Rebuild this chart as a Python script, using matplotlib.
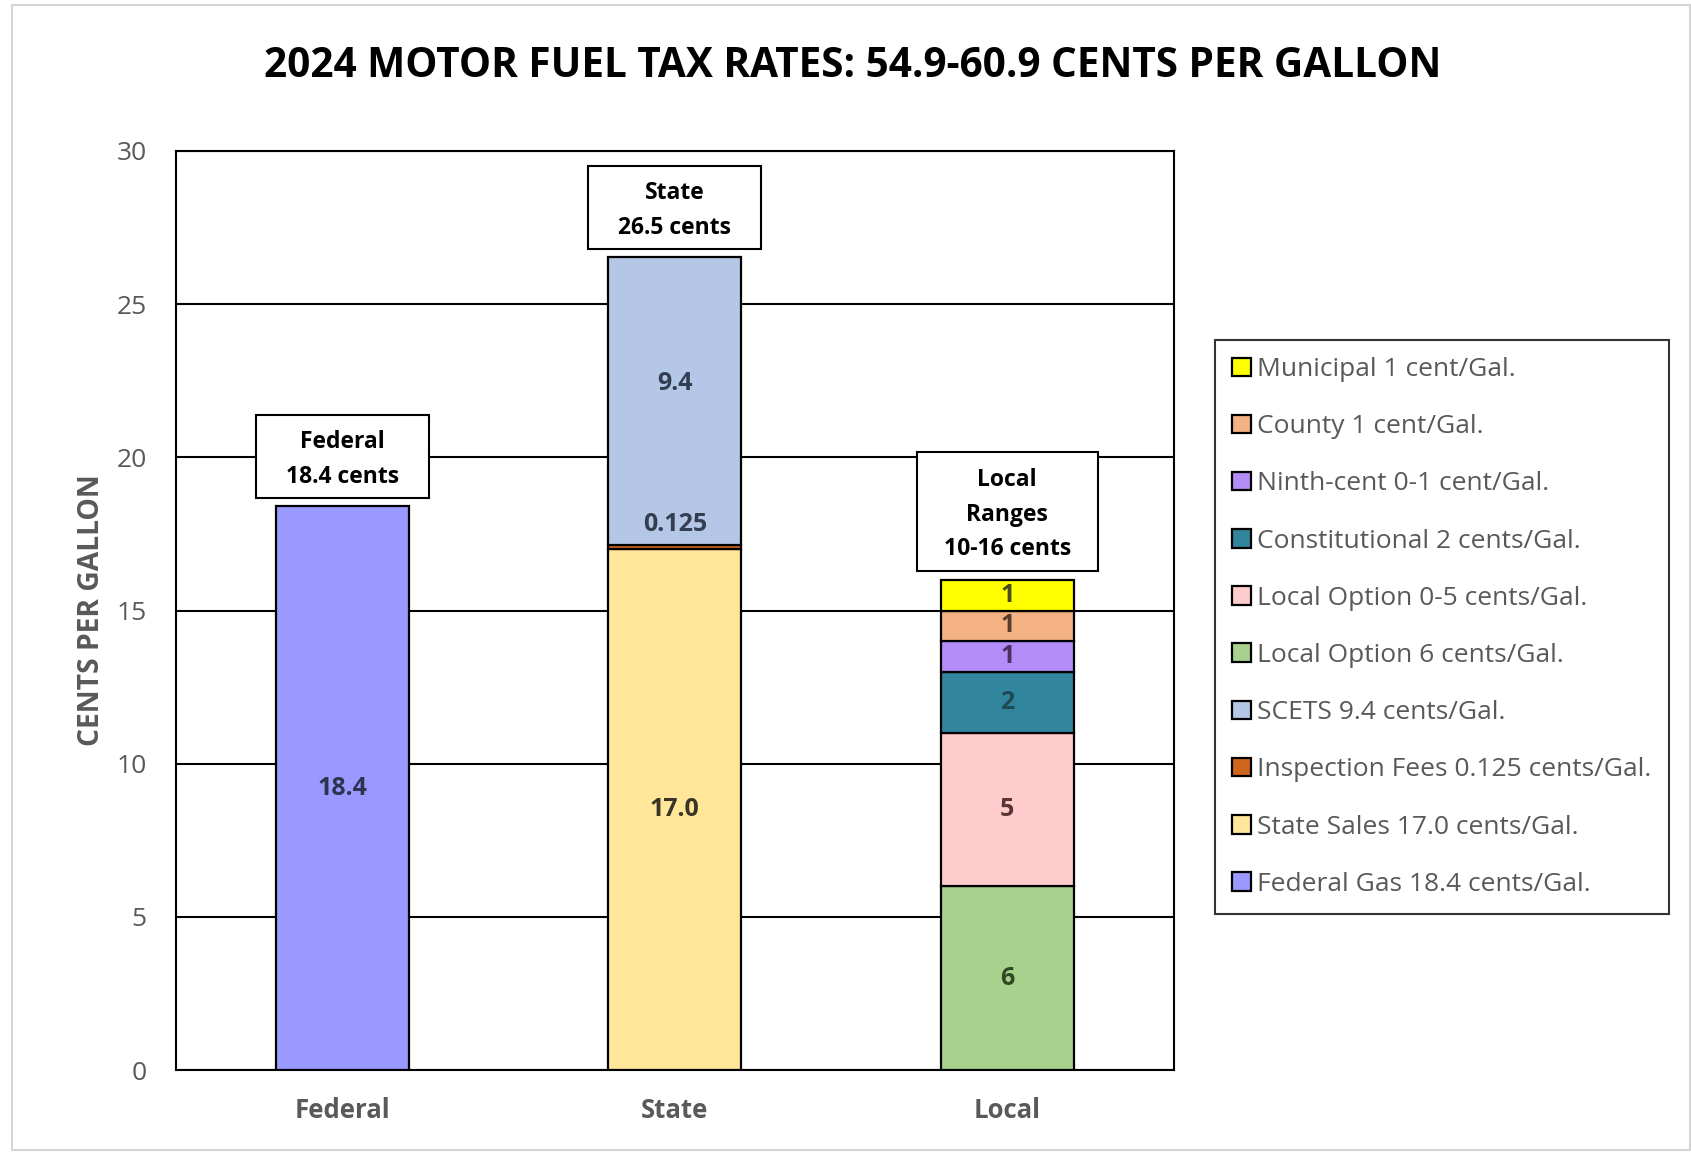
import numpy as np
import matplotlib
matplotlib.use("Agg")
import matplotlib.pyplot as plt
from matplotlib.patches import Rectangle

plt.rcParams['font.family'] = ['Open Sans', 'DejaVu Sans']

# categories on the x axis
categories = ["Federal", "State", "Local"]

# cents per gallon for each tax component, by category
federal_gas = [18.4, 0, 0]
state_sales = [0, 17.0, 0]
inspection_fees = [0, 0.125, 0]
scets = [0, 9.4, 0]
local_option_6 = [0, 0, 6]
local_option_0_5 = [0, 0, 5]
constitutional = [0, 0, 2]
ninth_cent = [0, 0, 1]
county = [0, 0, 1]
municipal = [0, 0, 1]

series_names = [
    "Federal Gas 18.4 cents/Gal.",
    "State Sales 17.0 cents/Gal.",
    "Inspection Fees 0.125 cents/Gal.",
    "SCETS 9.4 cents/Gal.",
    "Local Option 6 cents/Gal.",
    "Local Option 0-5 cents/Gal.",
    "Constitutional 2 cents/Gal.",
    "Ninth-cent 0-1 cent/Gal.",
    "County 1 cent/Gal.",
    "Municipal 1 cent/Gal.",
]
series_values = [federal_gas, state_sales, inspection_fees, scets,
                 local_option_6, local_option_0_5, constitutional,
                 ninth_cent, county, municipal]

# text in the boxes above each bar
box_texts = ["Federal\n18.4 cents", "State\n26.5 cents", "Local\nRanges\n10-16 cents"]

colors = ["#9999FF", "#FFE699", "#D0661E", "#B4C7E7", "#A9D18E",
          "#FFCCCC", "#31859C", "#B38CF7", "#F4B183", "#FFFF00"]
label_fmt = ["{:.1f}", "{:.1f}", "{:g}", "{:.1f}", "{:g}",
             "{:g}", "{:g}", "{:g}", "{:g}", "{:g}"]
label_dy = [0, 0, 0.75, 0.6, 0, 0, 0, 0, 0, 0]
label_colors = ["#2E3450", "#3A3428", "#333F50", "#333F50", "#2E4A22",
                "#5A3434", "#1E4A55", "#4A3060", "#5A3A28", "#4A4A20"]

fig = plt.figure(figsize=(16.91, 11.52), dpi=100)
ax = fig.add_axes([0.104, 0.071, 0.59, 0.798])

x = np.arange(len(categories))
bottom = np.zeros(len(categories))
handles = []
for name, vals, color, fmt, dy, tc in zip(series_names, series_values, colors,
                                           label_fmt, label_dy, label_colors):
    vals = np.array(vals, dtype=float)
    keep = vals > 0
    bars = ax.bar(x[keep], vals[keep], 0.4, bottom=bottom[keep], color=color,
                  edgecolor="black", linewidth=1.6, label=name, zorder=3)
    handles.append(bars)
    for xi, v, b in zip(x[keep], vals[keep], bottom[keep]):
        ax.text(xi, b + v / 2 + dy, fmt.format(v), ha="center", va="center",
                fontsize=18, fontweight="bold", color=tc, zorder=4)
    bottom += vals

# white boxes with the category totals
for xi, total, txt in zip(x, bottom, box_texts):
    nlines = txt.count("\n") + 1
    w = 0.52 if nlines == 2 else 0.545
    h = 0.35 + 1.18 * nlines
    y0 = total + 0.28
    ax.add_patch(Rectangle((xi - w / 2, y0), w, h, facecolor="white",
                           edgecolor="black", linewidth=1.5, zorder=5, clip_on=False))
    ax.text(xi, y0 + h / 2 - 0.1, txt, ha="center", va="center", fontsize=16.5,
            fontweight="bold", color="black", linespacing=1.58, zorder=6)

ax.set_xlim(-0.5, 2.5)
ax.set_ylim(0, 30)
ax.set_yticks(np.arange(0, 31, 5))
ax.set_xticks(x)
ax.set_xticklabels(categories, fontsize=18.5, fontweight="bold", color="#595959")
ax.tick_params(axis="y", length=0, pad=21, labelsize=19, labelcolor="#595959")
ax.tick_params(axis="x", length=0, pad=19)
ax.set_axisbelow(True)
ax.yaxis.grid(True, color="black", linewidth=1.5)
for s in ax.spines.values():
    s.set_color("black")
    s.set_linewidth(1.5)

ax.set_ylabel("CENTS PER GALLON", fontsize=20.3, fontweight="bold", color="#595959")
ax.yaxis.set_label_coords(-0.07, 0.5)

fig.text(0.504, 0.942, "2024 MOTOR FUEL TAX RATES: 54.9-60.9 CENTS PER GALLON",
         ha="center", va="center", fontsize=29.2, fontweight="bold", color="black")

leg = fig.legend(handles[::-1], series_names[::-1], loc="upper left",
                 bbox_to_anchor=(0.7185, 0.705), fontsize=19.0, frameon=True,
                 fancybox=False, edgecolor="black", handlelength=0.7,
                 handleheight=0.7, handletextpad=0.25, labelspacing=1.22,
                 borderpad=0.65, borderaxespad=0)
leg.get_frame().set_linewidth(1.5)
for t in leg.get_texts():
    t.set_color("#595959")

# light border around the whole chart area
fig.patches.append(Rectangle((12 / 1691, 2 / 1152), 1678 / 1691, 1145 / 1152,
                             transform=fig.transFigure, fill=False,
                             edgecolor="#D5D5D5", linewidth=1.5))

fig.savefig("out.png", dpi=100, facecolor="white")
